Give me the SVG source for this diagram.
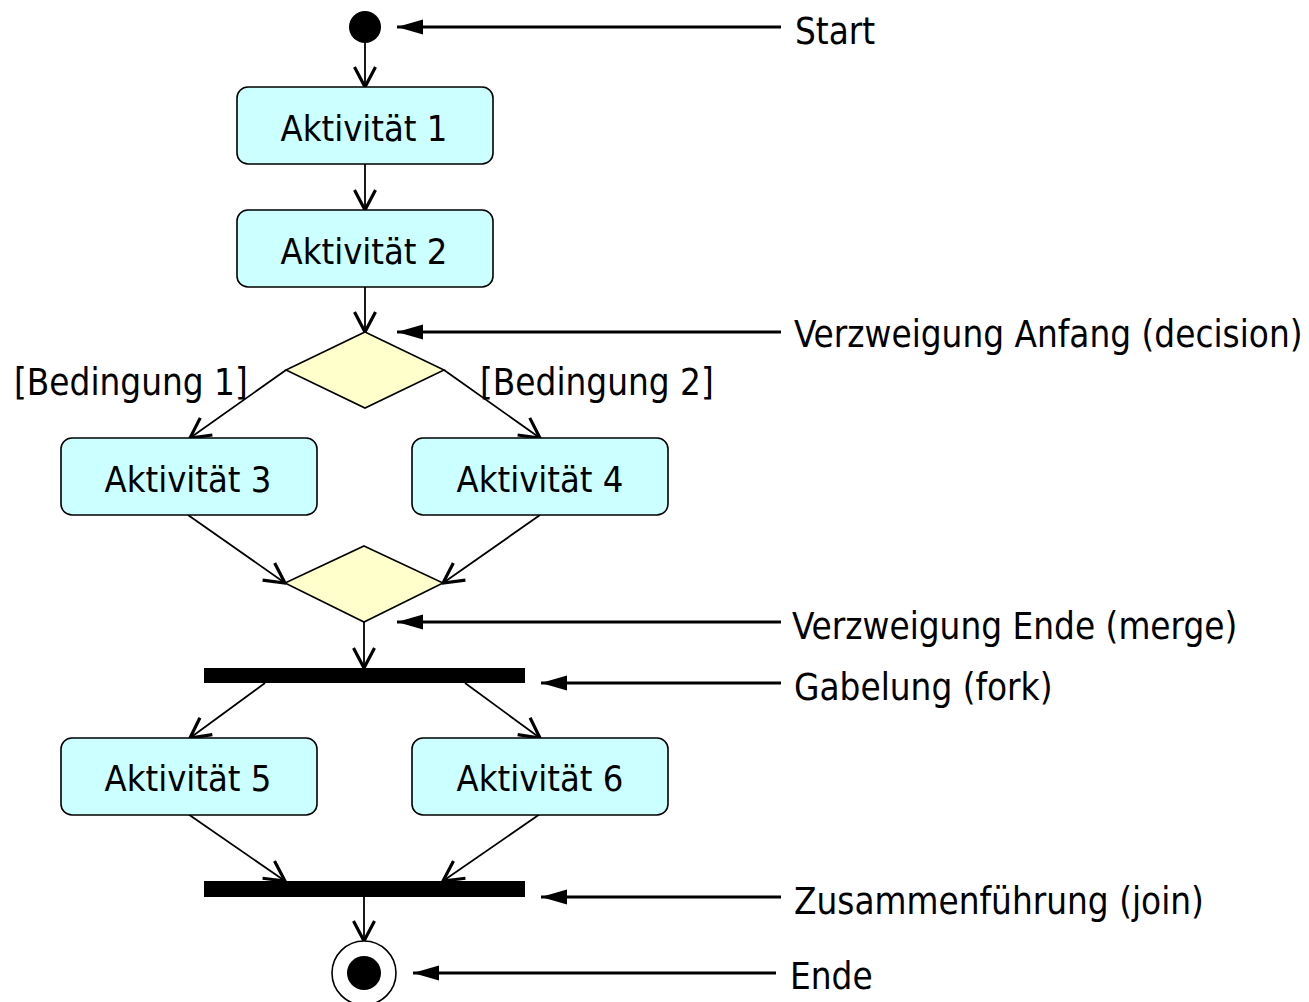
<svg xmlns="http://www.w3.org/2000/svg" width="1309" height="1002" viewBox="0 0 1309 1002">
  <style>
    text { font-family: "DejaVu Sans Condensed", "DejaVu Sans", sans-serif; font-stretch: condensed; font-size: 36.5px; fill: #000; }
    .act rect { fill: #CCFFFF; stroke: #000; stroke-width: 1.6; }
    .act text { text-anchor: middle; font-size: 36px; }
    .dia { fill: #FFFFCC; stroke: #000; stroke-width: 1.6; }
    .bar { fill: #000; }
    .flow { stroke: #000; stroke-width: 1.8; fill: none; marker-end: url(#open); }
    .note { stroke: #000; stroke-width: 3; fill: none; marker-end: url(#solid); }
  </style>
  <defs>
    <marker id="open" markerUnits="userSpaceOnUse" viewBox="-22 -13 24 26" refX="0" refY="0" markerWidth="24" markerHeight="26" orient="auto">
      <path d="M-20,-10.5 L0,0 L-20,10.5" fill="none" stroke="#000" stroke-width="3.2"/>
    </marker>
    <marker id="solid" markerUnits="userSpaceOnUse" viewBox="-27 -9 28 18" refX="0" refY="0" markerWidth="28" markerHeight="18" orient="auto">
      <path d="M-26,-7.5 L0,0 L-26,7.5 Z" fill="#000"/>
    </marker>
  </defs>

  <!-- control flow and annotation pointers -->
  <g id="connectors">
    <line class="flow" x1="365" y1="43" x2="365" y2="87"/>
    <line class="flow" x1="365" y1="164" x2="365" y2="210"/>
    <line class="flow" x1="365" y1="287" x2="365" y2="332"/>
    <line class="flow" x1="286" y1="370" x2="190" y2="438"/>
    <line class="flow" x1="444" y1="370" x2="540" y2="438"/>
    <line class="flow" x1="188" y1="515" x2="285" y2="583"/>
    <line class="flow" x1="540" y1="515" x2="443" y2="583"/>
    <line class="flow" x1="364" y1="622" x2="364" y2="668"/>
    <line class="flow" x1="265" y1="683" x2="190" y2="738"/>
    <line class="flow" x1="465" y1="683" x2="540" y2="738"/>
    <line class="flow" x1="188" y1="814" x2="285" y2="881"/>
    <line class="flow" x1="540" y1="814" x2="443" y2="881"/>
    <line class="flow" x1="364" y1="897" x2="364" y2="941"/>

    <line class="note" x1="781" y1="27" x2="397" y2="27"/>
    <line class="note" x1="781" y1="332" x2="397" y2="332"/>
    <line class="note" x1="781" y1="622" x2="397" y2="622"/>
    <line class="note" x1="781" y1="683" x2="541" y2="683"/>
    <line class="note" x1="781" y1="897" x2="541" y2="897"/>
    <line class="note" x1="776" y1="973" x2="413" y2="973"/>
  </g>

  <!-- initial node -->
  <g id="start">
    <circle cx="365" cy="27" r="16" fill="#000"/>
  </g>

  <g id="a1" class="act">
    <rect x="237" y="87" width="256" height="77" rx="11"/>
    <text x="364" y="141">Aktivität 1</text>
  </g>
  <g id="a2" class="act">
    <rect x="237" y="210" width="256" height="77" rx="11"/>
    <text x="364" y="264">Aktivität 2</text>
  </g>

  <g id="decision">
    <polygon class="dia" points="365,332 444,370 365,408 286,370"/>
  </g>

  <g id="a3" class="act">
    <rect x="61" y="438" width="256" height="77" rx="11"/>
    <text x="188" y="492">Aktivität 3</text>
  </g>
  <g id="a4" class="act">
    <rect x="412" y="438" width="256" height="77" rx="11"/>
    <text x="540" y="492">Aktivität 4</text>
  </g>

  <g id="merge">
    <polygon class="dia" points="364,546 443,583 364,622 285,583"/>
  </g>

  <g id="fork">
    <rect class="bar" x="204" y="668" width="321" height="15"/>
  </g>

  <g id="a5" class="act">
    <rect x="61" y="738" width="256" height="77" rx="11"/>
    <text x="188" y="791">Aktivität 5</text>
  </g>
  <g id="a6" class="act">
    <rect x="412" y="738" width="256" height="77" rx="11"/>
    <text x="540" y="791">Aktivität 6</text>
  </g>

  <g id="join">
    <rect class="bar" x="204" y="881" width="321" height="16"/>
  </g>

  <!-- final node -->
  <g id="end">
    <circle cx="364" cy="973" r="32" fill="#fff" stroke="#000" stroke-width="1.6"/>
    <circle cx="364" cy="973" r="17" fill="#000"/>
  </g>

  <!-- guard conditions -->
  <g id="guards">
    <text x="14" y="395">[Bedingung 1]</text>
    <text x="480" y="395">[Bedingung 2]</text>
  </g>

  <!-- legend -->
  <g id="labels">
    <text x="795" y="44">Start</text>
    <text x="794" y="347">Verzweigung Anfang (decision)</text>
    <text x="792" y="639">Verzweigung Ende (merge)</text>
    <text x="794" y="700">Gabelung (fork)</text>
    <text x="794" y="914">Zusammenführung (join)</text>
    <text x="790" y="989">Ende</text>
  </g>
</svg>
